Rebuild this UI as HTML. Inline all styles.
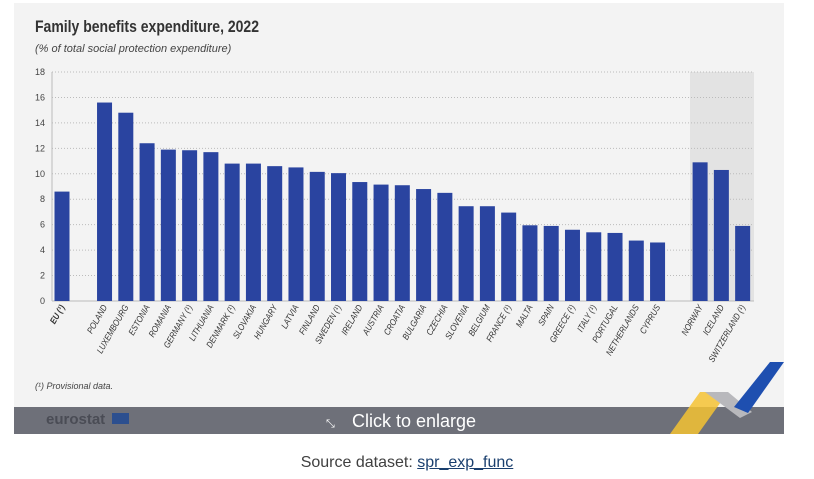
<!DOCTYPE html>
<html><head><meta charset="utf-8"><style>
body{margin:0;width:814px;height:479px;background:#fff;font-family:"Liberation Sans",sans-serif;overflow:hidden;position:relative}
#panel{position:absolute;left:14px;top:3px;width:770px;height:404px;background:#f3f3f3}
#bar{position:absolute;left:14px;top:407px;width:770px;height:27px;background:#6e7079}
#src{position:absolute;left:0;width:814px;top:454px;text-align:center;font-size:16px;color:#404040}
#src a{color:#1a3f6e;text-decoration:underline}
</style></head><body>
<div id="panel"></div>
<div id="bar"></div>
<svg id="svg" width="814" height="479" style="position:absolute;left:0;top:0">
<rect x="690" y="72" width="64" height="229" fill="#e3e3e3"/>
<text x="35" y="32" font-size="17" font-weight="bold" fill="#333" textLength="224" lengthAdjust="spacingAndGlyphs">Family benefits expenditure, 2022</text>
<text x="35" y="52" font-size="11" font-style="italic" fill="#444">(% of total social protection expenditure)</text>
<text x="35" y="389" font-size="9" font-style="italic" fill="#444">(¹) Provisional data.</text>
<text x="46" y="424" font-size="15" font-weight="bold" fill="#4a4c55">eurostat</text>
<rect x="112" y="413" width="17" height="11" fill="#2c4f8f"/>
<text x="326" y="427" font-size="11" fill="#fff">⤡</text>
<text x="352" y="427" font-size="18" fill="#fff">Click to enlarge</text>
<polygon points="670,434 700,392 728,392 698,434" fill="#f5c232" opacity="0.85"/>
<polygon points="705,392 728,392 752,412 740,418" fill="#b8b8bc"/>
<polygon points="734,407 770,362 784,362 748,413" fill="#1e4fb0"/>
<g id="g"></g>
</svg>
<div id="src">Source dataset: <a>spr_exp_func</a></div>
<script>
const categories=["EU (¹)","","POLAND","LUXEMBOURG","ESTONIA","ROMANIA","GERMANY (¹)","LITHUANIA","DENMARK (¹)","SLOVAKIA","HUNGARY","LATVIA","FINLAND","SWEDEN (¹)","IRELAND","AUSTRIA","CROATIA","BULGARIA","CZECHIA","SLOVENIA","BELGIUM","FRANCE (¹)","MALTA","SPAIN","GREECE (¹)","ITALY (¹)","PORTUGAL","NETHERLANDS","CYPRUS","","NORWAY","ICELAND","SWITZERLAND (¹)"];
const values=[8.6,null,15.6,14.8,12.4,11.9,11.85,11.7,10.8,10.8,10.6,10.5,10.15,10.05,9.35,9.15,9.1,8.8,8.5,7.45,7.45,6.95,5.95,5.9,5.6,5.4,5.35,4.75,4.6,null,10.9,10.3,5.9];
const yTicks=[0,2,4,6,8,10,12,14,16,18];
const NS="http://www.w3.org/2000/svg",g=document.getElementById('g');
const y=v=>301-v*(229/18), x=i=>62+i*21.27;
function mk(t,a){const e=document.createElementNS(NS,t);for(const k in a)e.setAttribute(k,a[k]);g.appendChild(e);return e;}
yTicks.forEach(t=>{
 const l=mk('line',{x1:52,x2:754,y1:y(t),y2:y(t),stroke:'#bbb','stroke-dasharray':t===0?'':'1,2'});
 
 
 const tx=mk('text',{x:45,y:y(t)+3,'font-size':9,fill:'#444','text-anchor':'end'});tx.textContent=t;
 
 
});
const ax=mk('line',{x1:52,x2:52,y1:72,y2:301,stroke:'#bbb'});


categories.forEach((c,i)=>{
 if(values[i]==null)return;
 const r=mk('rect',{x:x(i)-7.5,y:y(values[i]),width:15,height:301-y(values[i]),fill:'#2a44a0'});
 
 
 const t=mk('text',{x:0,y:0,'font-size':9,fill:'#333','font-style':'italic','font-weight':i===0?'bold':'normal','text-anchor':'end',transform:`translate(${x(i)+3},${307}) rotate(-60) scale(0.85,1)`});
 t.textContent=c;
 
 
});
</script>
</body></html>
